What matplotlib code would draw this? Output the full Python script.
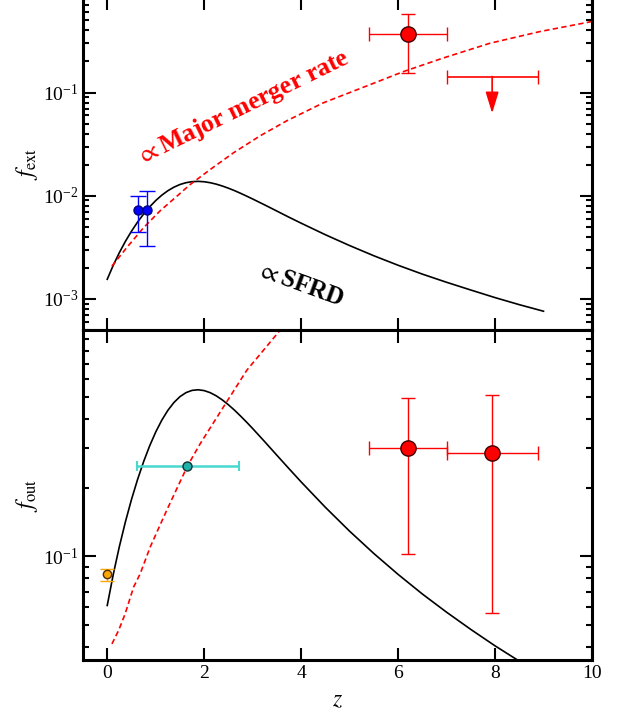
import numpy as np
import matplotlib
matplotlib.use('Agg')
import matplotlib.pyplot as plt
from matplotlib.ticker import LogLocator, NullFormatter, FixedLocator

plt.rcParams['font.family'] = ['Liberation Serif', 'DejaVu Serif']
plt.rcParams['mathtext.fontset'] = 'stix'

# curves
z_sfrd = [0, 0.125, 0.25, 0.375, 0.5, 0.625, 0.75, 0.875, 1.0, 1.125, 1.25, 1.375, 1.5, 1.625,
          1.75, 1.875, 2.0, 2.125, 2.25, 2.375, 2.5, 2.625, 2.75, 2.875, 3.0, 3.25, 3.5,
          3.75, 4.0, 4.5, 5.0, 5.5, 6.0, 6.5, 7.0, 7.5, 8.0, 8.5, 9.0]
fext_sfrd = [0.00155, 0.002125, 0.00281, 0.003616, 0.00453, 0.005548, 0.00665, 0.007804,
             0.00898, 0.01012, 0.01118, 0.0121, 0.01285, 0.01338, 0.01369, 0.01378, 0.01366,
             0.01337, 0.01295, 0.01242, 0.01183, 0.01121, 0.01056, 0.00992, 0.0093, 0.00814,
             0.0071, 0.00619, 0.00542, 0.00419, 0.00329, 0.00262, 0.00212, 0.00174, 0.00145,
             0.00122, 0.00103, 0.00088, 0.00076]
fout_sfrd = [0.0608, 0.0834, 0.1104, 0.1419, 0.1778, 0.2176, 0.2608, 0.3062, 0.3522, 0.397,
             0.4386, 0.4748, 0.5041, 0.525, 0.5371, 0.5404, 0.5359, 0.5246, 0.508, 0.4874,
             0.4642, 0.4396, 0.4142, 0.3893, 0.3649, 0.3191, 0.2783, 0.243, 0.2125, 0.1643,
             0.129, 0.1029, 0.0833, 0.0683, 0.0568, 0.0477, 0.0404, 0.0346, 0.0298]

z_mrg_top = [0.097, 0.406, 0.749, 1.093, 1.437, 1.711, 2.124, 2.604, 3.155, 3.705, 4.46,
             5.149, 6.11, 6.934, 7.897, 8.928, 10.0]
fext_mrg = [0.00208, 0.00316, 0.0049, 0.00716, 0.0099, 0.01285, 0.01795, 0.02606, 0.0381,
            0.0533, 0.0796, 0.1063, 0.1596, 0.2163, 0.3006, 0.390, 0.488]

z_mrg_bot = [0.097, 0.234, 0.371, 0.543, 0.68, 0.887, 1.23, 1.656, 1.918, 2.40, 2.88, 3.57, 4.0]
fout_mrg = [0.0412, 0.0472, 0.056, 0.0732, 0.0839, 0.110, 0.160, 0.250, 0.313, 0.455, 0.659,
            0.99, 1.2]

# data points
blue_z = [0.625, 0.83]
blue_f = [0.0072, 0.0072]
blue_lo = [0.00449, 0.00325]
blue_hi = [0.0099, 0.0111]

red_top_z, red_top_f = 6.2, 0.367
red_top_zlo, red_top_zhi = 5.4, 7.0
red_top_flo, red_top_fhi = 0.154, 0.578

ul_z, ul_f, ul_zlo, ul_zhi, ul_tip = 7.94, 0.143, 7.0, 8.89, 0.063

orange_z, orange_f, orange_lo, orange_hi = 0.0, 0.0833, 0.0776, 0.0883
cyan_z, cyan_f, cyan_zlo, cyan_zhi = 1.65, 0.250, 0.61, 2.71

red_bot_z = [6.2, 7.94]
red_bot_f = [0.300, 0.285]
red_bot_zlo = [5.4, 7.0]
red_bot_zhi = [7.0, 8.89]
red_bot_flo = [0.102, 0.0565]
red_bot_fhi = [0.498, 0.515]

fig = plt.figure(figsize=(6.18, 7.12), dpi=100)
ax1 = fig.add_axes([83 / 618, 382 / 712, 509 / 618, 333 / 712])
ax2 = fig.add_axes([83 / 618, 52 / 712, 509 / 618, 330 / 712])

dash = (0, (3.2, 2.0))

# top panel
ax1.plot(z_sfrd, fext_sfrd, color='black', lw=1.2)
ax1.plot(z_mrg_top, fext_mrg, color='red', lw=1.2, ls=dash)
bf = np.array(blue_f)
ax1.errorbar(blue_z, blue_f, yerr=[bf - np.array(blue_lo), np.array(blue_hi) - bf],
             fmt='o', color='blue', mfc='blue', mec='navy', ms=6.5, capsize=5.5,
             elinewidth=1.0, capthick=1.0, zorder=5)
ax1.errorbar(red_top_z, red_top_f,
             xerr=[[red_top_z - red_top_zlo], [red_top_zhi - red_top_z]],
             yerr=[[red_top_f - red_top_flo], [red_top_fhi - red_top_f]],
             fmt='o', color='red', mfc='red', mec='#400000', ms=11, capsize=4.7,
             elinewidth=1.0, capthick=1.0, zorder=5)
ax1.errorbar(ul_z, ul_f, xerr=[[ul_z - ul_zlo], [ul_zhi - ul_z]], fmt='none',
             color='red', capsize=4.7, elinewidth=1.2, capthick=1.0)
ax1.annotate('', xy=(ul_z, ul_tip), xytext=(ul_z, ul_f),
             arrowprops=dict(arrowstyle='-|>,head_length=0.65,head_width=0.2',
                             color='red', lw=1.2, shrinkA=0, shrinkB=0, mutation_scale=20))
ax1.text(2.81, 0.0711, r'$\propto$Major merger rate', color='red', fontsize=18.5,
         fontweight='bold', rotation=26, ha='center', va='center', rotation_mode='anchor')
ax1.text(3.98, 0.00137, r'$\propto$SFRD', color='black', fontsize=18,
         fontweight='bold', rotation=-20, ha='center', va='center', rotation_mode='anchor')
ax1.set_yscale('log')
ax1.set_ylim(5e-4, 0.843)
ax1.set_ylabel(r'$f_{\rm ext}$', fontsize=17, labelpad=2)

# bottom panel
ax2.plot(z_sfrd, fout_sfrd, color='black', lw=1.2)
ax2.plot(z_mrg_bot, fout_mrg, color='red', lw=1.2, ls=dash)
ax2.errorbar(orange_z, orange_f, yerr=[[orange_f - orange_lo], [orange_hi - orange_f]],
             fmt='o', color='orange', mfc='orange', mec='#503000', ms=6, capsize=4.7,
             elinewidth=1.0, capthick=1.0, zorder=5)
ax2.errorbar(cyan_z, cyan_f, xerr=[[cyan_z - cyan_zlo], [cyan_zhi - cyan_z]],
             fmt='o', color='#48D8D0', mfc='#20B2AA', mec='#103030', ms=6.5, capsize=3.6,
             elinewidth=1.8, capthick=1.5, zorder=5)
rf = np.array(red_bot_f)
rz = np.array(red_bot_z)
ax2.errorbar(red_bot_z, red_bot_f,
             xerr=[rz - np.array(red_bot_zlo), np.array(red_bot_zhi) - rz],
             yerr=[rf - np.array(red_bot_flo), np.array(red_bot_fhi) - rf],
             fmt='o', color='red', mfc='red', mec='#400000', ms=11, capsize=4.7,
             elinewidth=1.0, capthick=1.0, zorder=5)
ax2.set_yscale('log')
ax2.set_ylim(0.035, 0.99)
ax2.set_ylabel(r'$f_{\rm out}$', fontsize=17, labelpad=2)
ax2.set_xlabel(r'$z$', fontsize=17, labelpad=6)

for ax in (ax1, ax2):
    ax.set_xlim(-0.5, 10)
    ax.xaxis.set_major_locator(FixedLocator([0, 2, 4, 6, 8, 10]))
    ax.yaxis.set_major_locator(LogLocator(base=10))
    ax.yaxis.set_minor_locator(LogLocator(base=10, subs=np.arange(2, 10)))
    ax.yaxis.set_minor_formatter(NullFormatter())
    ax.tick_params(which='both', direction='in', top=True, right=True, labelsize=14)
    ax.tick_params(which='major', length=9, width=1.5)
    ax.tick_params(which='minor', length=4.5, width=1.5)
    ax.tick_params(axis='x', which='minor', top=False, bottom=False)
    for s in ax.spines.values():
        s.set_linewidth(2.2)

ax1.tick_params(labelbottom=False)

fig.savefig('out.png', dpi=100)
